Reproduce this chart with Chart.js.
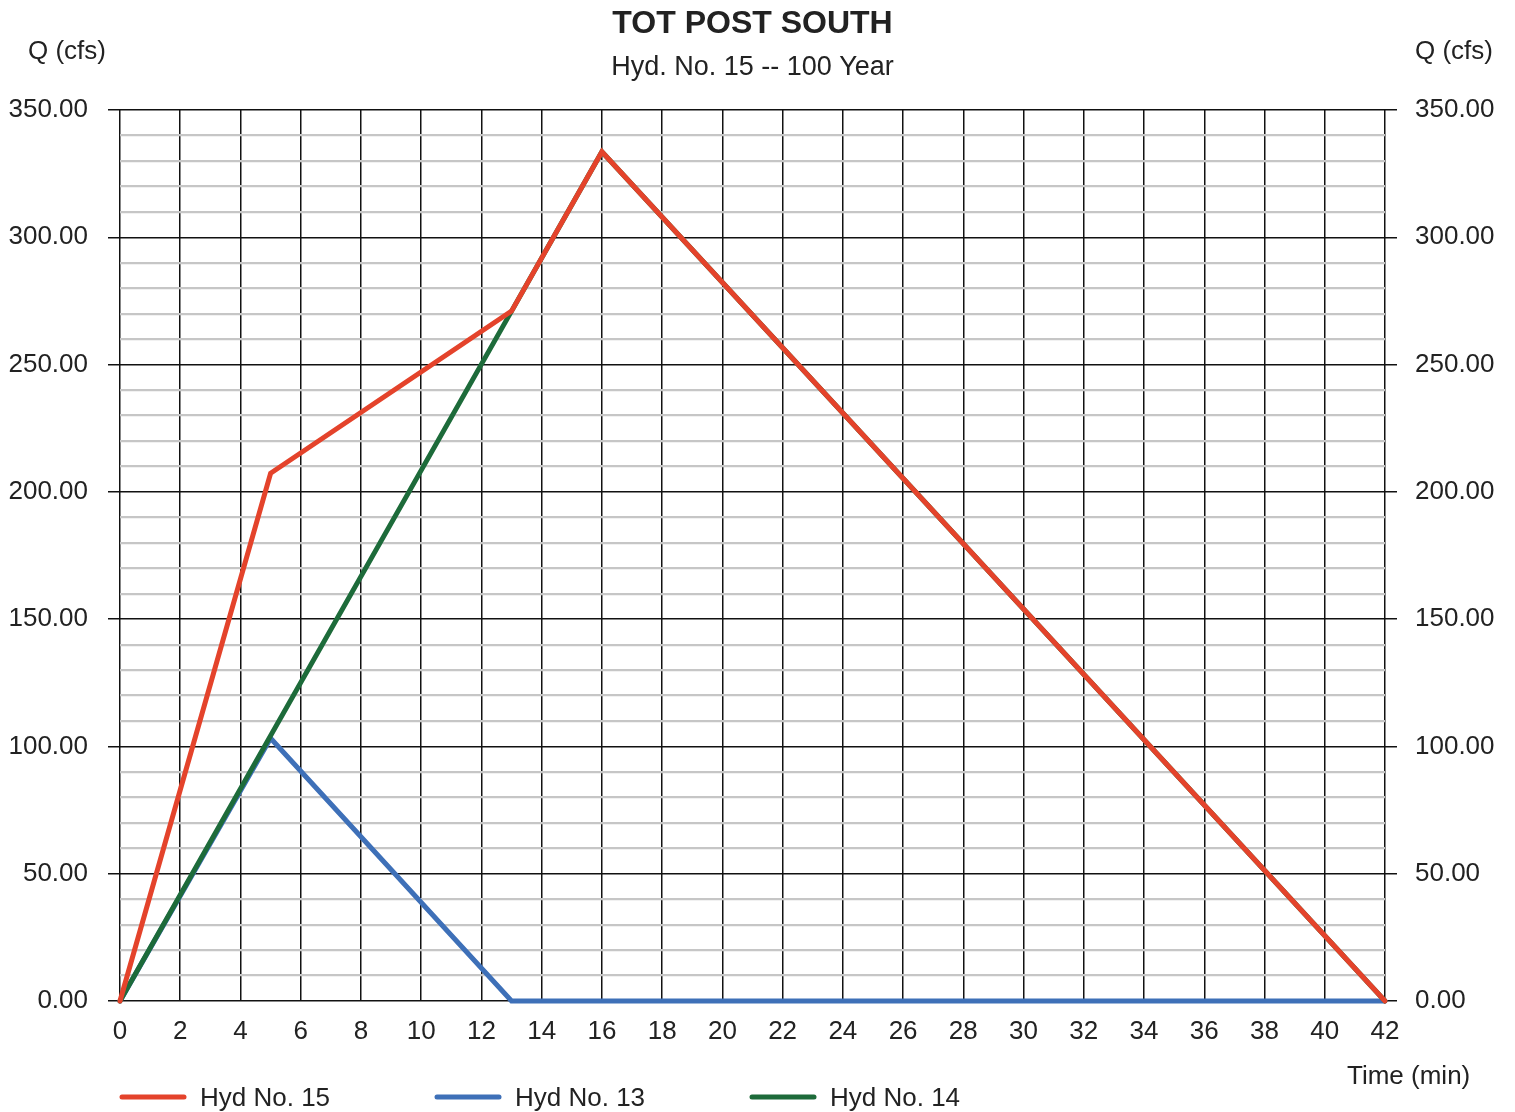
<!DOCTYPE html>
<html>
<head>
<meta charset="utf-8">
<script src="https://cdn.jsdelivr.net/npm/chart.js@4/dist/chart.umd.min.js"></script>
<style>
  html, body { margin: 0; padding: 0; background: #fff; }
  #wrap { width: 1515px; height: 1112px; position: relative; }
</style>
</head>
<body>
<div id="wrap"><canvas id="c" width="1515" height="1112"></canvas></div>
<script>
// Hydrograph ordinates, time in minutes, flow in cfs
const hyd15Time = [0, 5, 13, 16, 42];
const hyd15Q    = [0, 207.3, 271.0, 333.6, 0];
const hyd13Time = [0, 5, 13, 42];
const hyd13Q    = [0, 103.2, 0, 0];
const hyd14Time = [0, 13, 16, 42];
const hyd14Q    = [0, 271.0, 333.6, 0];

const seriesNames = ['Hyd No. 15', 'Hyd No. 13', 'Hyd No. 14'];
const seriesColors = ['#e4432b', '#3e70b8', '#1d6b3a'];

const titleText = 'TOT POST SOUTH';
const subtitleText = 'Hyd. No. 15 -- 100 Year';
const yAxisTitle = 'Q (cfs)';
const xAxisTitle = 'Time (min)';

const xMin = 0, xMax = 42, xStep = 2;
const yMin = 0, yMax = 350, yMinorStep = 10, yMajorStep = 50;

const FONT = '"Liberation Sans", Arial, sans-serif';
const TEXT = '#222222';

const pts = (t, q) => t.map((v, i) => ({ x: v, y: q[i] }));

const isMajor = v => Math.abs(v % yMajorStep) < 1e-6;

function yScale(position) {
  return {
    type: 'linear',
    position: position,
    min: yMin, max: yMax,
    afterBuildTicks: s => {
      const t = [];
      for (let v = yMin; v <= yMax + 1e-6; v += yMinorStep) t.push({ value: v });
      s.ticks = t;
    },
    afterFit: s => { s.width = position === 'left' ? 120 : 130; },
    border: { display: false },
    grid: {
      drawOnChartArea: position === 'left',
      color: ctx => isMajor(ctx.tick.value) ? '#111111' : '#c6c6c6',
      lineWidth: ctx => isMajor(ctx.tick.value) ? 1.5 : 2.2,
      tickColor: ctx => isMajor(ctx.tick.value) ? '#111111' : 'rgba(0,0,0,0)',
      tickLength: 12,
      tickWidth: 1.5
    },
    ticks: {
      autoSkip: false,
      padding: position === 'left' ? 20 : 18,
      color: TEXT,
      font: { family: FONT, size: 26 },
      callback: v => isMajor(v) ? v.toFixed(2) : ''
    }
  };
}

// Titles, axis captions and legend drawn on the canvas
const decorations = {
  id: 'decorations',
  afterDraw(chart) {
    const ctx = chart.ctx;
    const area = chart.chartArea;
    const cx = (area.left + area.right) / 2;
    ctx.save();
    ctx.fillStyle = TEXT;
    ctx.textBaseline = 'middle';
    ctx.textAlign = 'center';
    ctx.font = 'bold 32px ' + FONT;
    ctx.fillText(titleText, cx, 24);
    ctx.font = '27px ' + FONT;
    ctx.fillText(subtitleText, cx, 68);

    ctx.font = '26px ' + FONT;
    ctx.textAlign = 'left';
    ctx.fillText(yAxisTitle, 28, 52);
    ctx.fillText(yAxisTitle, 1415, 52);
    ctx.fillText(xAxisTitle, 1347, 1077);

    const legendX = [120, 435, 750];
    seriesNames.forEach((name, i) => {
      const x = legendX[i], y = 1097;
      ctx.strokeStyle = seriesColors[i];
      ctx.lineWidth = 5;
      ctx.lineCap = 'round';
      ctx.beginPath();
      ctx.moveTo(x + 2, y);
      ctx.lineTo(x + 64, y);
      ctx.stroke();
      ctx.fillStyle = TEXT;
      ctx.fillText(name, x + 80, y + 2);
    });
    ctx.restore();
  }
};

new Chart(document.getElementById('c'), {
  type: 'line',
  data: {
    datasets: [
      { label: seriesNames[0], data: pts(hyd15Time, hyd15Q), borderColor: seriesColors[0], order: 0 },
      { label: seriesNames[1], data: pts(hyd13Time, hyd13Q), borderColor: seriesColors[1], order: 2 },
      { label: seriesNames[2], data: pts(hyd14Time, hyd14Q), borderColor: seriesColors[2], order: 1 }
    ]
  },
  options: {
    responsive: false,
    animation: false,
    clip: 4,
    layout: { padding: { top: 110, left: 0, right: 0, bottom: 0 } },
    elements: {
      line: { borderWidth: 5, tension: 0, borderCapStyle: 'round', borderJoinStyle: 'miter' },
      point: { radius: 0, hoverRadius: 0 }
    },
    plugins: { legend: { display: false }, title: { display: false }, tooltip: { enabled: false } },
    scales: {
      x: {
        type: 'linear',
        min: xMin, max: xMax,
        afterFit: s => { s.height = 111; },
        border: { display: false },
        grid: { color: '#111111', lineWidth: 1.5, drawTicks: false },
        ticks: {
          stepSize: xStep, autoSkip: false, maxRotation: 0, padding: 15,
          color: TEXT, font: { family: FONT, size: 26 }
        }
      },
      y: yScale('left'),
      y2: yScale('right')
    }
  },
  plugins: [decorations]
});
</script>
</body>
</html>
